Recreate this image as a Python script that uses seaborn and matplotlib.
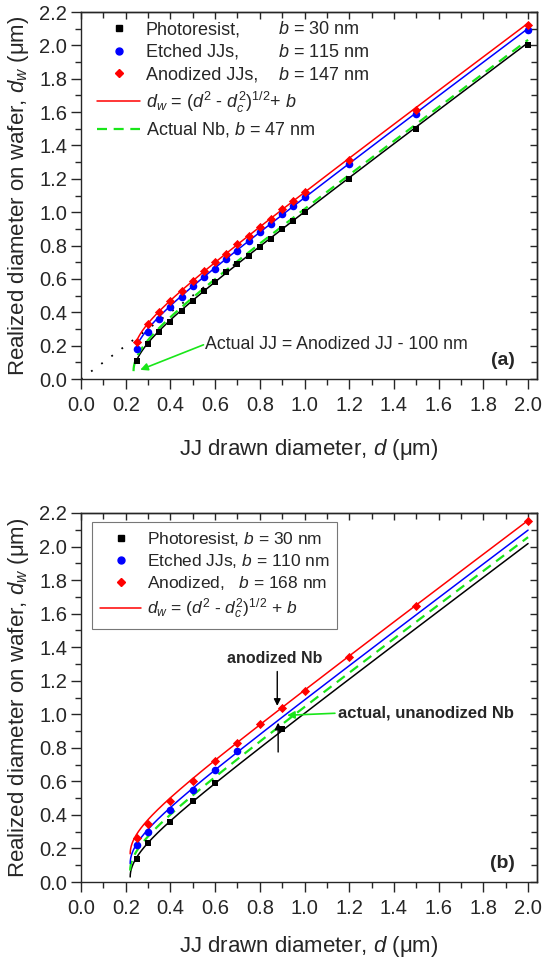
import numpy as np
import pandas as pd
import matplotlib
matplotlib.use("Agg")
import matplotlib.pyplot as plt
import seaborn as sns
from matplotlib.ticker import MultipleLocator, FormatStrFormatter
from matplotlib.lines import Line2D

# ---------------- data: panel (a) ----------------
d_a = [0.25, 0.30, 0.35, 0.40, 0.45, 0.50, 0.55, 0.60, 0.65, 0.70, 0.75,
       0.80, 0.85, 0.90, 0.95, 1.00, 1.20, 1.50, 2.00]
photo_a = [0.11, 0.21, 0.28, 0.34, 0.41, 0.47, 0.53, 0.58, 0.64, 0.69, 0.74,
           0.79, 0.84, 0.90, 0.95, 1.00, 1.20, 1.50, 2.00]
etched_a = [0.18, 0.28, 0.36, 0.43, 0.49, 0.56, 0.61, 0.66, 0.72, 0.77, 0.83,
            0.88, 0.93, 0.99, 1.04, 1.09, 1.29, 1.59, 2.09]
anod_a = [0.22, 0.33, 0.40, 0.47, 0.53, 0.59, 0.65, 0.70, 0.75, 0.81, 0.86,
          0.91, 0.96, 1.02, 1.07, 1.12, 1.31, 1.61, 2.12]
# fit parameters (a), d_w = (d^2 - d_c^2)^(1/2) + b
dc_a = 0.235
b_photo_a, b_etched_a, b_anod_a, b_actual_a = 0.030, 0.115, 0.147, 0.047
ref_x = [0.0, 0.70]
ref_y = [0.0, 0.70]
names_a = ["Photoresist,", "Etched JJs,", "Anodized JJs,"]
bvals_a = ["$b$ = 30 nm", "$b$ = 115 nm", "$b$ = 147 nm"]

# ---------------- data: panel (b) ----------------
d_photo_b = [0.25, 0.30, 0.40, 0.50, 0.60, 0.90]
photo_b = [0.14, 0.23, 0.36, 0.48, 0.59, 0.91]
d_etched_b = [0.25, 0.30, 0.40, 0.50, 0.60, 0.70]
etched_b = [0.22, 0.30, 0.43, 0.55, 0.665, 0.78]
d_anod_b = [0.25, 0.30, 0.40, 0.50, 0.60, 0.70, 0.80, 0.90, 1.00, 1.20, 1.50, 2.00]
anod_b = [0.26, 0.345, 0.48, 0.605, 0.72, 0.83, 0.94, 1.04, 1.14, 1.34, 1.645, 2.15]
dc_b = 0.22
b_photo_b, b_etched_b, b_anod_b, b_actual_b = 0.030, 0.110, 0.168, 0.068

BLACK, BLUE, RED, GREEN = "#000000", "#0000ff", "#ff0000", "#19e619"

sns.set_style("ticks")
plt.rcParams["font.family"] = ["Liberation Sans", "DejaVu Sans"]
plt.rcParams["mathtext.fontset"] = "custom"
plt.rcParams["mathtext.rm"] = "Liberation Sans"
plt.rcParams["mathtext.it"] = "Liberation Sans:italic"
plt.rcParams["mathtext.bf"] = "Liberation Sans:bold"
plt.rcParams["axes.linewidth"] = 1.0

fig = plt.figure(figsize=(5.43, 9.59), dpi=100)
W, H = 543, 959


def add_ax(left, top, right, bottom):
    return fig.add_axes([left / W, 1 - bottom / H, (right - left) / W, (bottom - top) / H])


ax_a = add_ax(81, 12, 537, 379)
ax_b = add_ax(81, 513, 537, 882)


def fit_curve(dc, b, start):
    t = np.linspace(0, 1, 400)
    d = start + (2.0 - start) * t ** 2
    return pd.DataFrame({"d": d, "dw": np.sqrt(np.clip(d ** 2 - dc ** 2, 0, None)) + b})


def style_axes(ax, xpad):
    ax.set_xlim(0, 2.04)
    ax.set_ylim(0, 2.2)
    ax.xaxis.set_major_locator(MultipleLocator(0.2))
    ax.xaxis.set_minor_locator(MultipleLocator(0.1))
    ax.yaxis.set_major_locator(MultipleLocator(0.2))
    ax.yaxis.set_minor_locator(MultipleLocator(0.1))
    ax.xaxis.set_major_formatter(FormatStrFormatter("%.1f"))
    ax.yaxis.set_major_formatter(FormatStrFormatter("%.1f"))
    ax.tick_params(which="major", direction="out", length=7, width=1.0,
                   labelsize=14.5, pad=3)
    ax.tick_params(axis="x", which="major", pad=5)
    ax.tick_params(which="minor", direction="out", length=4, width=1.0)
    for side in ("top", "right"):
        sec = ax.secondary_xaxis("top") if side == "top" else ax.secondary_yaxis("right")
        axis = sec.xaxis if side == "top" else sec.yaxis
        axis.set_major_locator(MultipleLocator(0.2))
        axis.set_minor_locator(MultipleLocator(0.1))
        sec.tick_params(which="major", direction="in", length=5, width=1.0)
        sec.tick_params(which="minor", direction="in", length=4, width=1.0)
        if side == "top":
            sec.tick_params(labeltop=False)
        else:
            sec.tick_params(labelright=False)
    for sp in ax.spines.values():
        sp.set_visible(True)
        sp.set_linewidth(1.0)
    ax.set_xlabel("JJ drawn diameter, $d$ (μm)", fontsize=16, labelpad=xpad)
    ax.set_ylabel("Realized diameter on wafer, $d_w$ (μm)", fontsize=16, labelpad=6)


def line(ax, df, color, lw=1.1, z=2, dashes=None):
    sns.lineplot(data=df, x="d", y="dw", ax=ax, color=color, lw=lw, sort=False,
                 estimator=None, zorder=z, legend=False)
    if dashes:
        ax.lines[-1].set_dashes(dashes)


# ---------------- panel (a) ----------------
ax = ax_a
sns.lineplot(x=ref_x, y=ref_y, ax=ax, color=BLACK, lw=1.3, linestyle=(0, (1, 6)),
             zorder=1, legend=False)
line(ax, fit_curve(dc_a, b_photo_a, 0.25), BLACK)
line(ax, fit_curve(dc_a, b_etched_a, 0.25), BLUE)
line(ax, fit_curve(dc_a, b_anod_a, 0.25), RED)
line(ax, fit_curve(dc_a, b_actual_a, dc_a), GREEN, lw=1.6, z=3, dashes=(4.5, 3))
sns.scatterplot(x=d_a, y=photo_a, ax=ax, color=BLACK, marker="s", s=24, linewidth=0,
                zorder=4, legend=False)
sns.scatterplot(x=d_a, y=etched_a, ax=ax, color=BLUE, marker="o", s=30, linewidth=0,
                zorder=4, legend=False)
sns.scatterplot(x=d_a, y=anod_a, ax=ax, color=RED, marker="D", s=22, linewidth=0,
                zorder=5, legend=False)

h_a = [
    Line2D([], [], color=BLACK, marker="s", ms=4.5, ls="none"),
    Line2D([], [], color=BLUE, marker="o", ms=5, ls="none"),
    Line2D([], [], color=RED, marker="D", ms=4.5, ls="none"),
    Line2D([], [], color=RED, lw=1.1),
    Line2D([], [], color=GREEN, lw=1.6, dashes=(4.5, 3)),
]
l_a = names_a + [r"$d_w$ = ($d^2$ - $d_c^2$)$^{1/2}$+ $b$", "Actual Nb, $b$ = 47 nm"]
leg_a = ax.legend(h_a, l_a, loc="upper left", bbox_to_anchor=(0.035, 0.975),
                  frameon=False, fontsize=13, handlelength=2.4, handletextpad=0.3,
                  labelspacing=0.32, borderpad=0, borderaxespad=0)
ax.annotate("", xy=(0.265, 0.055), xytext=(0.548, 0.205),
            arrowprops=dict(arrowstyle="-|>", color=GREEN, lw=1.2, mutation_scale=11,
                            shrinkA=0, shrinkB=0))
ax.text(0.555, 0.205, "Actual JJ = Anodized JJ - 100 nm", fontsize=12.8,
        ha="left", va="center")
ax.text(1.94, 0.108, "(a)", fontsize=14, fontweight="bold", ha="right", va="center")
style_axes(ax, 16)

# ---------------- panel (b) ----------------
ax = ax_b
line(ax, fit_curve(dc_b, b_photo_b, dc_b), BLACK)
line(ax, fit_curve(dc_b, b_actual_b, dc_b), GREEN, lw=1.6, dashes=(4.5, 3))
line(ax, fit_curve(dc_b, b_anod_b, dc_b), RED)
line(ax, fit_curve(dc_b, b_etched_b, dc_b), BLUE)
sns.scatterplot(x=d_photo_b, y=photo_b, ax=ax, color=BLACK, marker="s", s=24,
                linewidth=0, zorder=4, legend=False)
sns.scatterplot(x=d_etched_b, y=etched_b, ax=ax, color=BLUE, marker="o", s=30,
                linewidth=0, zorder=4, legend=False)
sns.scatterplot(x=d_anod_b, y=anod_b, ax=ax, color=RED, marker="D", s=22,
                linewidth=0, zorder=5, legend=False)
h_b = [
    Line2D([], [], color=BLACK, marker="s", ms=4.5, ls="none"),
    Line2D([], [], color=BLUE, marker="o", ms=5, ls="none"),
    Line2D([], [], color=RED, marker="D", ms=4.5, ls="none"),
    Line2D([], [], color=RED, lw=1.1),
]
l_b = [
    "Photoresist, $b$ = 30 nm",
    "Etched JJs, $b$ = 110 nm",
    "Anodized,   $b$ = 168 nm",
    r"$d_w$ = ($d^2$ - $d_c^2$)$^{1/2}$ + $b$",
]
leg = ax.legend(h_b, l_b, loc="upper left", bbox_to_anchor=(0.024, 0.976),
                frameon=True, fancybox=False, fontsize=12.5, handlelength=2.4,
                handletextpad=0.3, labelspacing=0.25, borderpad=0.45,
                borderaxespad=0, edgecolor="#555555")
leg.get_frame().set_linewidth(0.8)
ax.text(0.868, 1.333, "anodized Nb", fontsize=11.5, fontweight="bold",
        ha="center", va="center")
ax.annotate("", xy=(0.878, 1.05), xytext=(0.878, 1.255),
            arrowprops=dict(arrowstyle="-|>", color=BLACK, lw=1.0, mutation_scale=10,
                            shrinkA=0, shrinkB=0))
ax.annotate("", xy=(0.882, 0.95), xytext=(0.882, 0.775),
            arrowprops=dict(arrowstyle="-|>", color=BLACK, lw=1.0, mutation_scale=10,
                            shrinkA=0, shrinkB=0))
ax.annotate("", xy=(0.922, 0.994), xytext=(1.136, 1.006),
            arrowprops=dict(arrowstyle="-|>", color=GREEN, lw=1.2, mutation_scale=11,
                            shrinkA=0, shrinkB=0))
ax.text(1.15, 1.006, "actual, unanodized Nb", fontsize=12, fontweight="bold",
        ha="left", va="center")
ax.text(1.94, 0.108, "(b)", fontsize=14, fontweight="bold", ha="right", va="center")
style_axes(ax, 12)

# b-column of legend (a), aligned with the legend rows
fig.canvas.draw()
renderer = fig.canvas.get_renderer()
for txt, s in zip(leg_a.get_texts()[:3], bvals_a):
    bb = txt.get_window_extent(renderer)
    fig.text(278 / W, bb.y0 / H, s, fontsize=13, ha="left", va="bottom")

fig.savefig("out.png", dpi=100)
